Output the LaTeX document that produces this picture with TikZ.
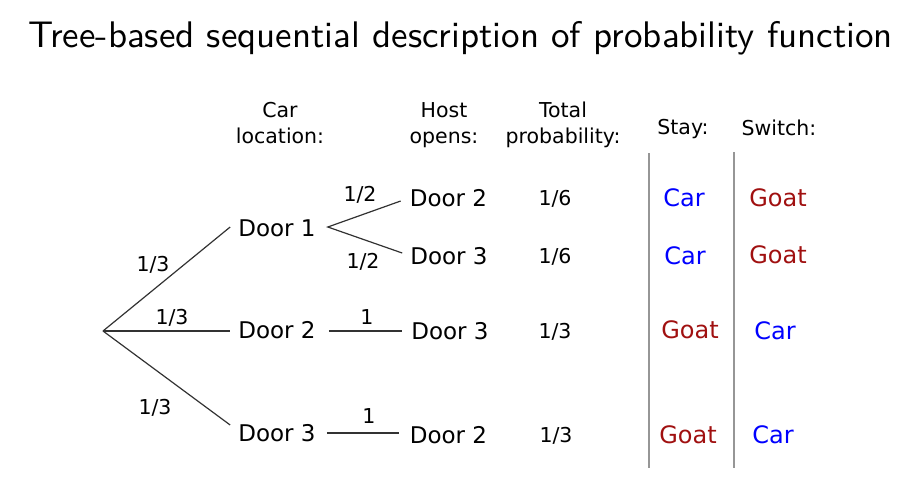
\documentclass[tikz,border=0pt]{standalone}
\usepackage{fontspec}
\newfontfamily\dejavu{DejaVu Sans}
\newfontfamily\titlesf{lmsans10-regular}[Extension=.otf]
\definecolor{goatred}{RGB}{160,16,16}
\definecolor{carblue}{RGB}{0,0,255}
\definecolor{treeline}{RGB}{50,50,50}
\definecolor{rule}{RGB}{150,150,150}
\begin{document}
\begin{tikzpicture}[x=1pt,y=-1pt,
  titlefont/.style={inner sep=0pt, text height=25.7pt, text depth=0pt, font=\titlesf\fontsize{37}{37}\selectfont},
  door/.style={inner sep=0pt, text height=17pt, text depth=0pt, font=\dejavu\fontsize{23}{23}\selectfont},
  prob/.style={inner sep=0pt, text height=15pt, text depth=0pt, font=\dejavu\fontsize{20.5}{20.5}\selectfont},
  head/.style={prob},
  res/.style={inner sep=0pt, text height=17.5pt, text depth=0pt, font=\dejavu\fontsize{24}{24}\selectfont},
  edgeline/.style={draw=treeline, line width=1.2pt},
  colrule/.style={draw=rule, line width=1.3pt}]
\useasboundingbox (0,0) rectangle (920,480);
% title
\node[titlefont] (title) at (460.5,34.5) {Tree-based sequential description of probability function};
% headers
\node[head] (hc1) at (280,110) {Car};
\node[head] (hc2) at (280,136) {location:};
\node[head] (hh1) at (444,110) {Host};
\node[head] (hh2) at (444,136) {opens:};
\node[head] (ht1) at (563,110) {Total};
\node[head] (ht2) at (563,136) {probability:};
\node[head] (hs) at (683,127) {Stay:};
\node[head] (hw) at (779,128) {Switch:};
% tree
\coordinate (root) at (103,331);
\node[door] (d1) at (277,228) {Door 1};
\node[door] (d2) at (277,330) {Door 2};
\node[door] (d3) at (277,433) {Door 3};
\node[door] (h1) at (448.5,198) {Door 2};
\node[door] (h2) at (449,256) {Door 3};
\node[door] (h3) at (450,331) {Door 3};
\node[door] (h4) at (448.5,435) {Door 2};
\draw[edgeline] (root) -- ([xshift=-8pt,yshift=1pt]d1.west);
\draw[edgeline] (root) -- ([xshift=-8pt,yshift=-1pt]d2.west);
\draw[edgeline] (root) -- ([xshift=-8pt,yshift=8pt]d3.west);
\draw[edgeline] ([xshift=-9pt,yshift=-3pt]h1.west) -- ([xshift=12pt,yshift=1pt]d1.east) -- ([xshift=-8pt,yshift=3pt]h2.west);
\draw[edgeline] ([xshift=13pt,yshift=-1pt]d2.east) -- ([xshift=-9pt]h3.west);
\draw[edgeline] ([xshift=11pt,yshift=0pt]d3.east) -- ([xshift=-11pt,yshift=2pt]h4.west);
% edge labels
\node[prob] (p1) at (153,264) {1/3};
\node[prob] (p2) at (172,316.5) {1/3};
\node[prob] (p3) at (155,407) {1/3};
\node[prob] (p4) at (360,194) {1/2};
\node[prob] (p5) at (363,261) {1/2};
\node[prob] (p6) at (367,316.5) {1};
\node[prob] (p7) at (369,416) {1};
% totals
\node[prob] (t1) at (555,198) {1/6};
\node[prob] (t2) at (555,256) {1/6};
\node[prob] (t3) at (555,331) {1/3};
\node[prob] (t4) at (556,435) {1/3};
% rules
\coordinate (r1t) at (649,153);
\coordinate (r1b) at (649,468);
\coordinate (r2t) at (734,152);
\coordinate (r2b) at (734,468);
\draw[colrule] (r1t) -- (r1b);
\draw[colrule] (r2t) -- (r2b);
% stay
\node[res, text=carblue] (s1) at (684,198) {Car};
\node[res, text=carblue] (s2) at (685,256) {Car};
\node[res, text=goatred] (s3) at (690,330) {Goat};
\node[res, text=goatred] (s4) at (688,435) {Goat};
% switch
\node[res, text=goatred] (w1) at (778,198) {Goat};
\node[res, text=goatred] (w2) at (778,255) {Goat};
\node[res, text=carblue] (w3) at (775,331) {Car};
\node[res, text=carblue] (w4) at (773,435) {Car};
\end{tikzpicture}
\end{document}
